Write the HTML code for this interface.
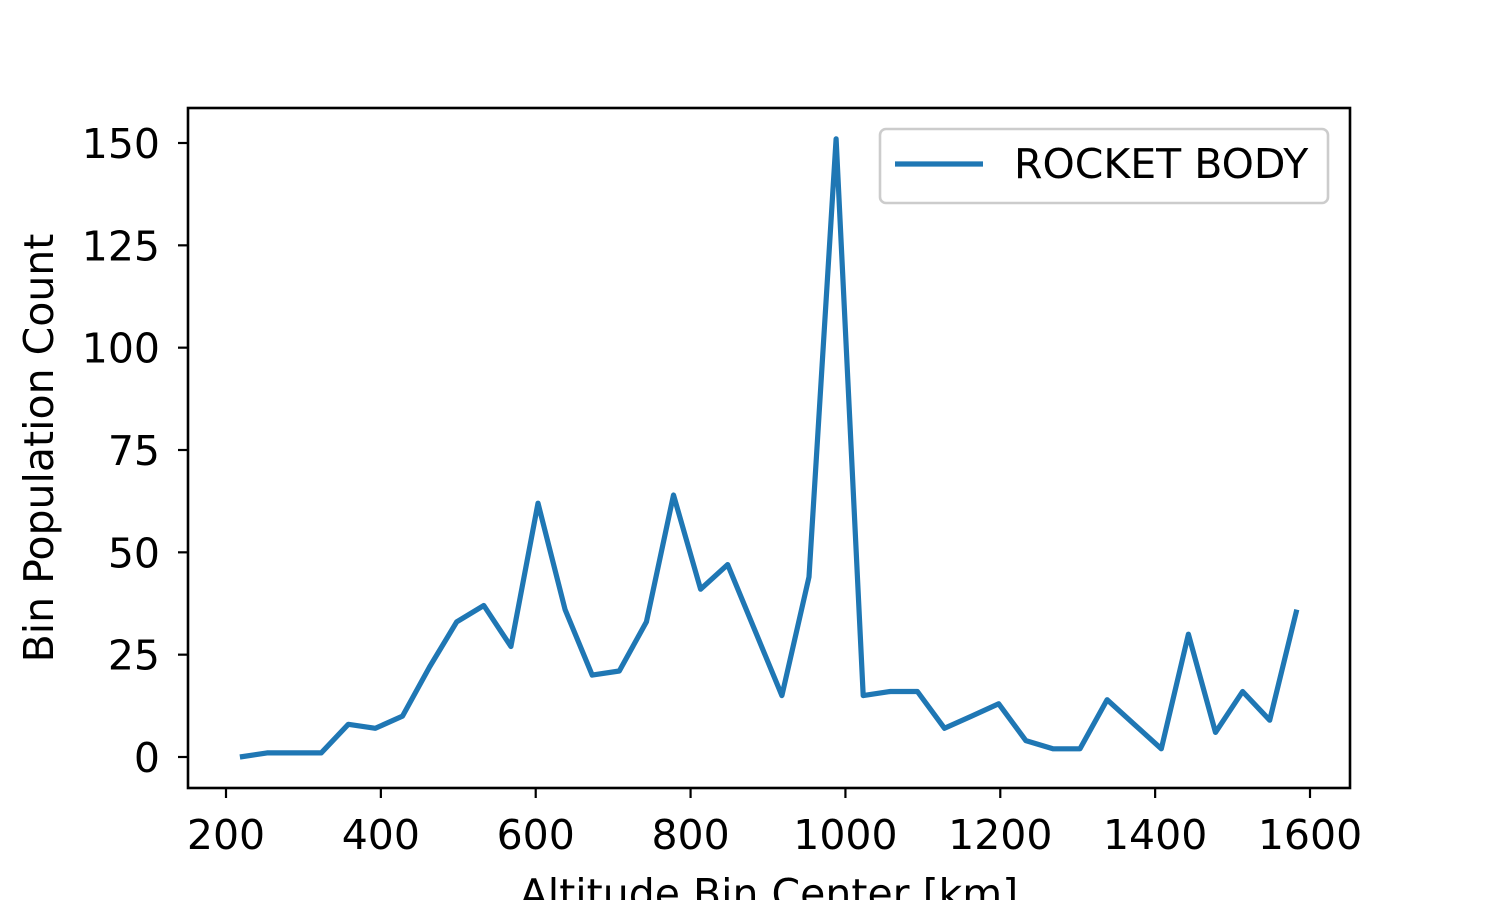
<!DOCTYPE html>
<html><head><meta charset="utf-8"><style>
body{margin:0;background:#fff;}
svg text{font-family:"DejaVu Sans","Liberation Sans",sans-serif;fill:#000;}
</style></head><body>
<svg id="chart" width="1500" height="900" xmlns="http://www.w3.org/2000/svg">
<rect width="1500" height="900" fill="#fff"/>
<g id="ticks"></g>
<path id="series" fill="none" stroke="#1f77b4" stroke-width="5.2" stroke-linejoin="round"/>
<rect x="188" y="108" width="1162" height="680" fill="none" stroke="#000" stroke-width="2.6"/>
<text transform="translate(53,448) rotate(-90)" text-anchor="middle" font-size="41">Bin Population Count</text>
<text x="769" y="908" text-anchor="middle" font-size="41">Altitude Bin Center [km]</text>
<g>
<rect x="880" y="129" width="448" height="74" rx="6" fill="#fff" stroke="#ccc" stroke-width="2.6"/>
<line x1="895" y1="164" x2="983" y2="164" stroke="#1f77b4" stroke-width="5.2"/>
<text x="1014" y="178" font-size="41">ROCKET BODY</text>
</g>
</svg>
<script>
const altitudes=[218,253,288,323,358,393,428,463,498,533,568,603,638,673,708,743,778,813,848,883,918,953,988,1023,1058,1093,1128,1163,1198,1233,1268,1303,1338,1373,1408,1443,1478,1513,1548,1583];
const counts=[0,1,1,1,8,7,10,22,33,37,27,62,36,20,21,33,64,41,47,31,15,44,151,15,16,16,7,10,13,4,2,2,14,8,2,30,6,16,9,36];
const xTicks=[200,400,600,800,1000,1200,1400,1600];
const yTicks=[0,25,50,75,100,125,150];
const xs=v=>226+(v-200)*(1084/1400);
const ys=v=>757-v*(614/150);
const ns="http://www.w3.org/2000/svg";
const g=document.getElementById('ticks');
function mk(tag,attrs){const e=document.createElementNS(ns,tag);for(const k in attrs)e.setAttribute(k,attrs[k]);return e;}
xTicks.forEach(t=>{
  const l=mk('line',{x1:xs(t),x2:xs(t),y1:788,y2:798,stroke:'#000','stroke-width':2.2});
  
  
  g.appendChild(l);
  const tx=mk('text',{x:xs(t),y:849,'text-anchor':'middle','font-size':41});
  
  
  tx.textContent=t;g.appendChild(tx);
});
yTicks.forEach(t=>{
  const l=mk('line',{x1:178,x2:188,y1:ys(t),y2:ys(t),stroke:'#000','stroke-width':2.2});
  
  
  g.appendChild(l);
  const tx=mk('text',{x:160,y:ys(t)+15,'text-anchor':'end','font-size':41});
  
  
  tx.textContent=t;g.appendChild(tx);
});
document.getElementById('series').setAttribute('d',altitudes.map((a,i)=>(i?'L':'M')+xs(a).toFixed(1)+','+ys(counts[i]).toFixed(1)).join(' '));
</script>
</body></html>
